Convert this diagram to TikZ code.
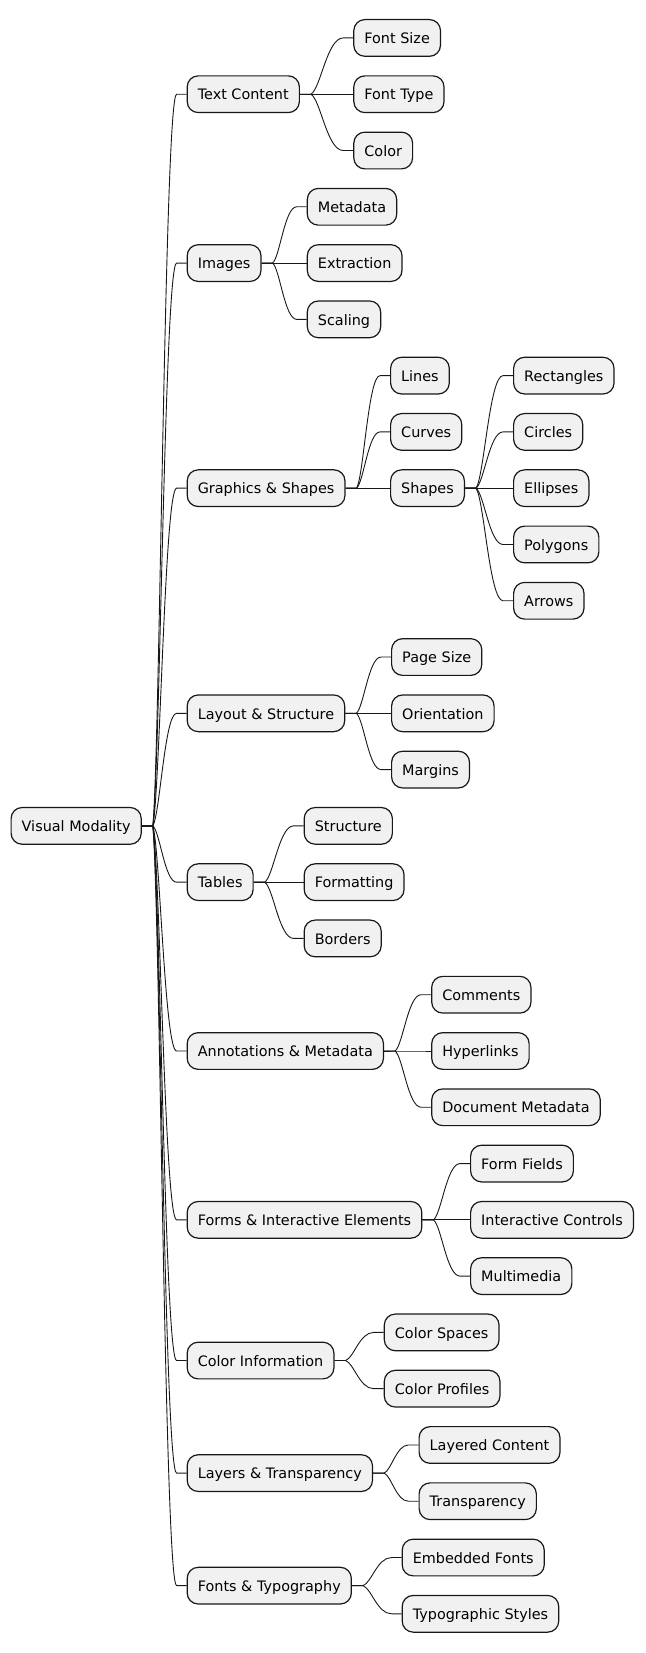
\documentclass[tikz,border=0pt]{standalone}
\usepackage{fontspec}
\setmainfont{DejaVu Sans}
\usetikzlibrary{calc}
\definecolor{boxfill}{HTML}{F1F1F1}
\definecolor{boxline}{HTML}{181818}
\tikzset{
  mm/.style={draw=boxline, fill=boxfill, line width=1.2pt, rounded corners=11pt,
    minimum height=36.7pt, inner xsep=10.6pt, inner ysep=0pt,
    text height=11.4pt, text depth=0pt, anchor=west,
    font=\fontsize{14.4pt}{16pt}\selectfont},
  link/.style={draw=boxline, line width=0.9pt, to path={
    let \p1=(\tikztostart), \p2=(\tikztotarget),
        \n1={\x2-\x1-21pt}, \n2={\y2-\y1} in
    -- (\x1+11pt,\y1)
    .. controls (\x1+11pt+0.3*\n1,\y1+0.1*\n2) and (\x1+11pt+0.5*\n1,\y2) ..
    (\x2-10pt,\y2) -- (\x2,\y2)}}
}
\begin{document}
\begin{tikzpicture}
\useasboundingbox (0pt,0pt) rectangle (645pt,-1653pt);
% root
\node[mm] (root) at (10.5pt,-825.87pt) {Visual Modality};
% level 1
\node[mm] (tc) at (186.6pt,-94.23pt) {Text Content};
\node[mm] (im) at (186.6pt,-263.07pt) {Images};
\node[mm] (gs) at (186.6pt,-488.19pt) {Graphics \& Shapes};
\node[mm] (ls) at (186.6pt,-713.31pt) {Layout \& Structure};
\node[mm] (tb) at (186.6pt,-882.15pt) {Tables};
\node[mm] (am) at (186.6pt,-1050.99pt) {Annotations \& Metadata};
\node[mm] (fi) at (186.6pt,-1219.83pt) {Forms \& Interactive Elements};
\node[mm] (ci) at (186.6pt,-1360.53pt) {Color Information};
\node[mm] (lt) at (186.6pt,-1473.09pt) {Layers \& Transparency};
\node[mm] (ft) at (186.6pt,-1585.65pt) {Fonts \& Typography};
% text content
\node[mm] (fs) at (353.2pt,-37.95pt) {Font Size};
\node[mm] (fty) at (353.2pt,-94.23pt) {Font Type};
\node[mm] (col) at (353.2pt,-150.51pt) {Color};
% images
\node[mm] (md) at (306.7pt,-206.79pt) {Metadata};
\node[mm] (ex) at (306.7pt,-263.07pt) {Extraction};
\node[mm] (sc) at (306.7pt,-319.35pt) {Scaling};
% graphics
\node[mm] (li) at (390pt,-375.63pt) {Lines};
\node[mm] (cu) at (390pt,-431.91pt) {Curves};
\node[mm] (sh) at (390pt,-488.19pt) {Shapes};
% shapes
\node[mm] (re) at (513pt,-375.63pt) {Rectangles};
\node[mm] (cr) at (513pt,-431.91pt) {Circles};
\node[mm] (el) at (513pt,-488.19pt) {Ellipses};
\node[mm] (po) at (513pt,-544.47pt) {Polygons};
\node[mm] (ar) at (513pt,-600.75pt) {Arrows};
% layout
\node[mm] (ps) at (391pt,-657.03pt) {Page Size};
\node[mm] (orn) at (391pt,-713.31pt) {Orientation};
\node[mm] (ma) at (391pt,-769.59pt) {Margins};
% tables
\node[mm] (st) at (303.6pt,-825.87pt) {Structure};
\node[mm] (fo) at (303.6pt,-882.15pt) {Formatting};
\node[mm] (bo) at (303.6pt,-938.43pt) {Borders};
% annotations
\node[mm] (co) at (431.1pt,-994.71pt) {Comments};
\node[mm] (hy) at (431.1pt,-1050.99pt) {Hyperlinks};
\node[mm] (dm) at (431.1pt,-1107.27pt) {Document Metadata};
% forms
\node[mm] (ff) at (470pt,-1163.55pt) {Form Fields};
\node[mm] (ic) at (470pt,-1219.83pt) {Interactive Controls};
\node[mm] (mu) at (470pt,-1276.11pt) {Multimedia};
% color
\node[mm] (cs) at (383.7pt,-1332.39pt) {Color Spaces};
\node[mm] (cp) at (383.7pt,-1388.67pt) {Color Profiles};
% layers
\node[mm] (lc) at (418.5pt,-1444.95pt) {Layered Content};
\node[mm] (tr) at (418.5pt,-1501.23pt) {Transparency};
% fonts
\node[mm] (ef) at (401.6pt,-1557.51pt) {Embedded Fonts};
\node[mm] (ts) at (401.6pt,-1613.79pt) {Typographic Styles};
% links
\foreach \c in {tc,im,gs,ls,tb,am,fi,ci,lt,ft} \draw[link] (root.east) to (\c.west);
\foreach \c in {fs,fty,col} \draw[link] (tc.east) to (\c.west);
\foreach \c in {md,ex,sc} \draw[link] (im.east) to (\c.west);
\foreach \c in {li,cu,sh} \draw[link] (gs.east) to (\c.west);
\foreach \c in {re,cr,el,po,ar} \draw[link] (sh.east) to (\c.west);
\foreach \c in {ps,orn,ma} \draw[link] (ls.east) to (\c.west);
\foreach \c in {st,fo,bo} \draw[link] (tb.east) to (\c.west);
\foreach \c in {co,hy,dm} \draw[link] (am.east) to (\c.west);
\foreach \c in {ff,ic,mu} \draw[link] (fi.east) to (\c.west);
\foreach \c in {cs,cp} \draw[link] (ci.east) to (\c.west);
\foreach \c in {lc,tr} \draw[link] (lt.east) to (\c.west);
\foreach \c in {ef,ts} \draw[link] (ft.east) to (\c.west);
\end{tikzpicture}
\end{document}
